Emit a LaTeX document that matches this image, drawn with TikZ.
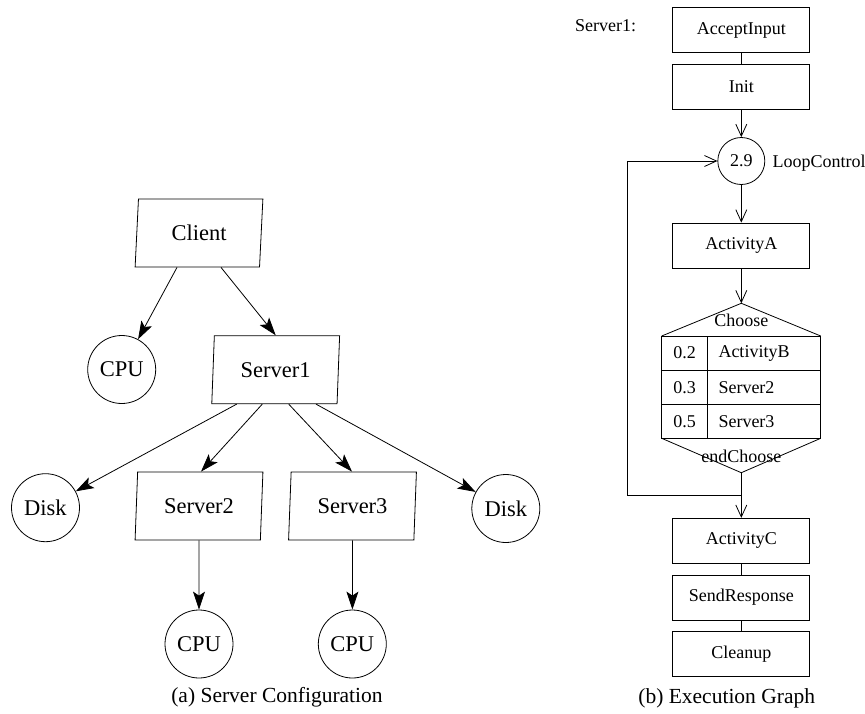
\documentclass[tikz,border=0pt]{standalone}
\usepackage{fontspec}
\setmainfont{Liberation Serif}
\usetikzlibrary{arrows.meta,shapes.geometric}
\begin{document}
\begin{tikzpicture}[x=1pt,y=-1pt,
  big/.style={font=\fontsize{22.5}{26}\selectfont},
  small/.style={font=\fontsize{18}{21}\selectfont},
  captext/.style={font=\fontsize{21.5}{25}\selectfont},
  para/.style={draw, big, trapezium, trapezium left angle=84.5, trapezium right angle=95.5,
    trapezium stretches=true, minimum width=128pt, minimum height=68pt, inner sep=0pt, line width=0.8pt},
  res/.style={draw, circle, big, minimum size=68pt, inner sep=0pt, line width=0.8pt},
  farrow/.style={line width=0.8pt, -{Stealth[length=18pt,width=12pt,inset=4pt]}},
  box/.style={draw, rectangle, small, minimum width=137pt, minimum height=45pt, inner sep=0pt, line width=0.8pt},
  oarrow/.style={line width=0.8pt, -{Straight Barb[length=12pt,width=11pt]}},
  plain/.style={line width=0.8pt}
]
\useasboundingbox (0,0) rectangle (865,713);

% ---------- (a) Server Configuration ----------
\node[para] (client) at (199,233) {Client};
\node[res] (cpu0) at (121.7,369.5) {CPU};
\node[para] (s1) at (275.7,369.7) {Server1};
\node[res] (disk1) at (45.5,507.7) {Disk};
\node[para] (s2) at (199,506) {Server2};
\node[para] (s3) at (352.5,506) {Server3};
\node[res] (disk2) at (505.8,508.5) {Disk};
\node[res] (cpu2) at (199,644) {CPU};
\node[res] (cpu3) at (352.3,644) {CPU};
\node[captext] (capa) at (277,697) {(a) Server Configuration};

\draw[farrow] ([xshift=-22pt]client.south) -- (cpu0);
\draw[farrow] ([xshift=22pt]client.south) -- (s1.north);
\draw[farrow] ([xshift=-39pt]s1.south) -- (disk1);
\draw[farrow] ([xshift=-13.4pt]s1.south) -- ([xshift=2pt]s2.north);
\draw[farrow] ([xshift=13pt]s1.south) -- ([xshift=-0.5pt]s3.north);
\draw[farrow] ([xshift=40.3pt]s1.south) -- (disk2);
\draw[farrow] (s2.south) -- (cpu2);
\draw[farrow] (s3.south) -- (cpu3);

% ---------- (b) Execution Graph ----------
\node[small, anchor=base west] (srvlabel) at (571.7,31.5) {Server1:};
\node[box] (ai) at (741.3,30.2) {AcceptInput};
\node[box] (init) at (741.3,86.5) {Init};
\node[draw, circle, small, minimum size=47pt, inner sep=0pt, line width=0.8pt] (lc) at (741.3,161) {2.9};
\node[small, anchor=base west] (lclabel) at (769,167) {LoopControl};
\node[box] (aa) at (741.3,245.5) {ActivityA};

% choose block
\coordinate (ctop) at (741.3,303.3);
\coordinate (cbot) at (741.3,472.7);
\draw[plain] (661.7,336) -- (ctop) -- (820.7,336);
\draw[plain] (661.7,336) rectangle (820.7,438.3);
\draw[plain] (661.7,370) -- (820.7,370);
\draw[plain] (661.7,404.3) -- (820.7,404.3);
\draw[plain] (707.3,336) -- (707.3,438.3);
\draw[plain] (661.7,438.3) -- (cbot) -- (820.7,438.3);
\node[small] (choose) at (741.3,320) {Choose};
\node[small] (endchoose) at (741.3,456.5) {endChoose};
\node[small] (p1) at (684.5,353) {0.2};
\node[small] (p2) at (684.5,387.2) {0.3};
\node[small] (p3) at (684.5,421.3) {0.5};
\node[small, anchor=west, inner xsep=0pt] (b1) at (718.3,353) {ActivityB};
\node[small, anchor=west, inner xsep=0pt] (b2) at (718.3,387.2) {Server2};
\node[small, anchor=west, inner xsep=0pt] (b3) at (718.3,421.3) {Server3};

\node[box] (ac) at (741.3,540.8) {ActivityC};
\node[box] (sr) at (741.3,597.5) {SendResponse};
\node[box] (cu) at (741.3,654.2) {Cleanup};
\node[captext] (capb) at (726.7,698) {(b) Execution Graph};

\coordinate (join) at (741.3,495);
\coordinate (loopc) at (627.7,495);

\draw[plain] (ai) -- (init);
\draw[oarrow] (init) -- (lc);
\draw[oarrow] (lc) -- (aa);
\draw[oarrow] (aa) -- (ctop);
\draw[oarrow] (cbot) -- (ac);
\draw[oarrow] (join) -- (loopc) |- (lc);
\draw[plain] (ac) -- (sr);
\draw[plain] (sr) -- (cu);
\end{tikzpicture}
\end{document}
